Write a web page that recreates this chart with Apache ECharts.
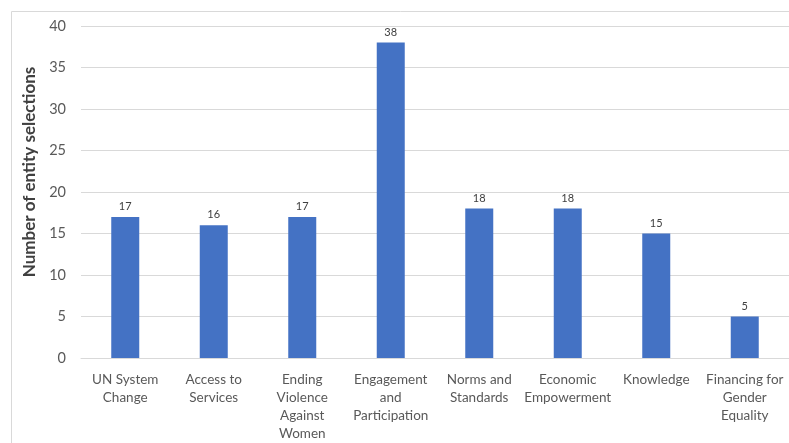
<!DOCTYPE html>
<html><head><meta charset="utf-8">
<script src="https://cdn.jsdelivr.net/npm/echarts@6/dist/echarts.min.js"></script>
<style>html,body{margin:0;padding:0;background:#fff}#c{width:789px;height:443px}</style>
</head><body><div id="c"></div>
<script>
const categories = ["UN System\nChange","Access to\nServices","Ending\nViolence\nAgainst\nWomen","Engagement\nand\nParticipation","Norms and\nStandards","Economic\nEmpowerment","Knowledge","Financing for\nGender\nEquality"];
const values = [17,16,17,38,18,18,15,5];
const yTicks = {min:0,max:40,interval:5};
const yTitle = "Number of entity selections";
const font = "Lato, 'Open Sans', sans-serif";
const chart = echarts.init(document.getElementById('c'), null, {renderer:'canvas'});
chart.setOption({
  animation:false,
  graphic:[
    {type:'rect',shape:{x:11.5,y:11.5,width:800,height:500},style:{fill:'none',stroke:'#d9d9d9',lineWidth:1},z:-1},
    {type:'text',x:30,y:172,rotation:Math.PI/2,
     style:{text:yTitle,fill:'#404040',font:'bold 17px '+font,align:'center',verticalAlign:'middle'}}
  ],
  grid:{left:81,right:0,top:26,bottom:80,containLabel:false},
  xAxis:{type:'category',data:categories,
    axisLine:{lineStyle:{color:'#d9d9d9'}},axisTick:{show:false},
    axisLabel:{interval:0,color:'#595959',fontFamily:font,fontSize:13.5,lineHeight:18,margin:13}},
  yAxis:{type:'value',min:yTicks.min,max:yTicks.max,interval:yTicks.interval,
    axisLine:{show:false},axisTick:{show:false},
    splitLine:{lineStyle:{color:'#d9d9d9'}},
    axisLabel:{color:'#595959',fontFamily:font,fontSize:14.5,margin:15}},
  series:[{type:'bar',data:values,barWidth:28,itemStyle:{color:'#4472C4'},
    label:{show:true,position:'top',distance:5,color:'#404040',fontFamily:font,fontSize:11}}]
});
</script></body></html>
